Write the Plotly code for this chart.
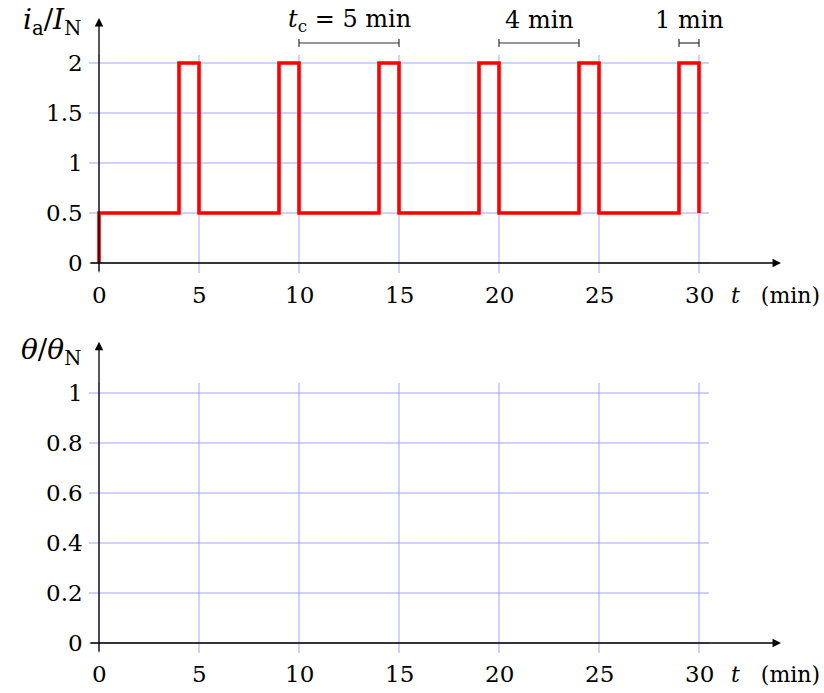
import plotly.graph_objects as go

# ---- data ----
t_break = [0, 0, 4, 5, 9, 10, 14, 15, 19, 20, 24, 25, 29, 30]
i_level = [0, 0.5, 2, 0.5, 2, 0.5, 2, 0.5, 2, 0.5, 2, 0.5, 2, 0.5]

x_ticks = [0, 5, 10, 15, 20, 25, 30]
y1_ticks = [0, 0.5, 1, 1.5, 2]
y1_labels = ["0", "0.5", "1", "1.5", "2"]
y2_ticks = [0, 0.2, 0.4, 0.6, 0.8, 1]
y2_labels = ["0", "0.2", "0.4", "0.6", "0.8", "1"]

# dimension brackets: (start, end, label)
brackets = [(10, 15, "<i>t</i><sub>c</sub> = 5 min"),
            (20, 24, "4 min"),
            (29, 30, "1 min")]

FONT = "'DejaVu Serif', serif"
FS_TICK = 23
FS_LAB = 22
FS_TOP = 24
FS_YLAB = 28
GRID = "#a3a3ff"
BLACK = "#000000"

fig = go.Figure()
fig.add_trace(go.Scatter(x=t_break, y=i_level, mode="lines", line_shape="hv",
                         line=dict(color="#ff0000", width=3.6),
                         xaxis="x", yaxis="y", showlegend=False,
                         hoverinfo="skip"))
# dummy trace to activate bottom axes
fig.add_trace(go.Scatter(x=[None], y=[None], xaxis="x2", yaxis="y2",
                         showlegend=False, hoverinfo="skip"))

shapes = []
ann = []

def grid(xr, yr, yticks, ylo, yhi):
    for xv in x_ticks:
        shapes.append(dict(type="line", xref=xr, yref=yr, x0=xv, x1=xv,
                           y0=ylo, y1=yhi, line=dict(color=GRID, width=1),
                           layer="below"))
    for yv in yticks:
        shapes.append(dict(type="line", xref=xr, yref=yr, x0=-0.5, x1=30.5,
                           y0=yv, y1=yv, line=dict(color=GRID, width=1),
                           layer="below"))

grid("x", "y", y1_ticks, -0.1, 2.08)
grid("x2", "y2", y2_ticks, -0.04, 1.04)

def axes(xr, yr, ylo, ytip, xlab_y, ticks, labels, ylabel, ylabel_y):
    # x axis arrow
    ann.append(dict(x=34.1, y=0, ax=-0.5, ay=0, xref=xr, yref=yr,
                    axref=xr, ayref=yr, showarrow=True, arrowhead=2,
                    arrowsize=1.3, arrowwidth=1.3, arrowcolor=BLACK,
                    standoff=0, text=""))
    # y axis arrow
    ann.append(dict(x=0, y=ytip, ax=0, ay=ylo, xref=xr, yref=yr,
                    axref=xr, ayref=yr, showarrow=True, arrowhead=2,
                    arrowsize=1.3, arrowwidth=1.3, arrowcolor=BLACK,
                    standoff=0, text=""))
    for xv in x_ticks:
        ann.append(dict(x=xv, y=xlab_y, xref=xr, yref=yr, text=str(xv),
                        showarrow=False, xanchor="center", yanchor="middle",
                        font=dict(family=FONT, size=FS_TICK, color=BLACK)))
    for yv, lab in zip(ticks, labels):
        ann.append(dict(x=-0.72, y=yv, xref=xr, yref=yr, text=lab,
                        showarrow=False, xanchor="right", yanchor="middle",
                        font=dict(family=FONT, size=FS_TICK, color=BLACK)))
    ann.append(dict(x=31.5, y=xlab_y, xref=xr, yref=yr,
                    text="<i>t</i>   (min)", showarrow=False,
                    xanchor="left", yanchor="middle",
                    font=dict(family=FONT, size=FS_LAB, color=BLACK)))
    ann.append(dict(x=-0.8, y=ylabel_y, xref=xr, yref=yr, text=ylabel,
                    showarrow=False, xanchor="right", yanchor="middle",
                    font=dict(family=FONT, size=FS_YLAB, color=BLACK)))

axes("x", "y", -0.1, 2.45, -0.32, y1_ticks, y1_labels,
     "<i>i</i><sub>a</sub>/<i>I</i><sub>N</sub>", 2.42)
axes("x2", "y2", -0.04, 1.205, -0.125, y2_ticks, y2_labels,
     "<i>θ</i>/<i>θ</i><sub>N</sub>", 1.168)

for a, b, lab in brackets:
    shapes.append(dict(type="line", xref="x", yref="y", x0=a, x1=b,
                       y0=2.2, y1=2.2, line=dict(color="#333333", width=1.2)))
    for xv in (a, b):
        shapes.append(dict(type="line", xref="x", yref="y", x0=xv, x1=xv,
                           y0=2.16, y1=2.24,
                           line=dict(color="#333333", width=1.2)))
    ann.append(dict(x=(a + b) / 2, y=2.43, xref="x", yref="y", text=lab,
                    showarrow=False, xanchor="center", yanchor="middle",
                    font=dict(family=FONT, size=FS_TOP, color=BLACK)))

axis_common = dict(visible=False, fixedrange=True)
fig.update_layout(
    width=824, height=693,
    margin=dict(l=79, r=5, t=0, b=0),
    paper_bgcolor="white", plot_bgcolor="white",
    font=dict(family=FONT, size=FS_TICK, color=BLACK),
    xaxis=dict(range=[-1, 36], domain=[0, 1], anchor="y", **axis_common),
    yaxis=dict(range=[-0.4, 2.5], domain=[0.56277, 0.98124], anchor="x",
               **axis_common),
    xaxis2=dict(range=[-1, 36], domain=[0, 1], anchor="y2", **axis_common),
    yaxis2=dict(range=[-0.16, 1.32], domain=[0.01443, 0.54834], anchor="x2",
                **axis_common),
    shapes=shapes, annotations=ann, showlegend=False,
)

fig.write_html("out.html")
